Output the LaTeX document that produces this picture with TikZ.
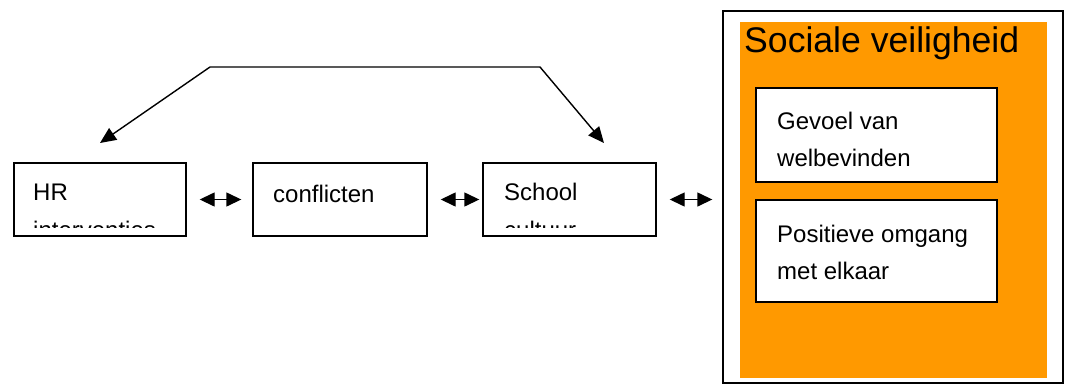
\documentclass[tikz,border=0pt]{standalone}
\usepackage{fontspec}
\setmainfont{Liberation Sans}
\usetikzlibrary{arrows.meta}
\definecolor{vorange}{HTML}{FF9900}
\begin{document}
\begin{tikzpicture}[x=1pt,y=-1pt,
  box/.style={draw=black, line width=1.4pt, fill=white, inner sep=0pt},
  lbl/.style={anchor=base west, inner sep=0pt, align=left, font=\fontsize{24}{37.5}\selectfont},
  dbl/.style={line width=1.4pt, {Triangle[length=15pt,width=14pt]}-{Triangle[length=15pt,width=14pt]}},
  topar/.style={line width=1.4pt, {Triangle[length=16pt,width=14pt]}-{Triangle[length=16pt,width=14pt]}}]
\useasboundingbox (0,0) rectangle (1067,386);
% left boxes
\node[box, minimum width=172pt, minimum height=73pt] (hr) at (100,199.5) {};
\node[box, minimum width=174pt, minimum height=73pt] (conf) at (340,199.5) {};
\node[box, minimum width=173pt, minimum height=73pt] (school) at (569.5,199.5) {};
\begin{scope}
  \clip (15,164) rectangle (185,227.5);
  \node[lbl] (hrt) at (33,238) {HR\\interventies};
\end{scope}
\node[lbl] (conft) at (273,202) {conflicten};
\begin{scope}
  \clip (484,164) rectangle (655,227.5);
  \node[lbl] (schoolt) at (504,238) {School\\cultuur};
\end{scope}
% right panel
\node[draw=black, line width=1.4pt, minimum width=340pt, minimum height=372pt, inner sep=0pt] (outer) at (893,197) {};
\node[fill=vorange, minimum width=307pt, minimum height=356pt, inner sep=0pt] (orange) at (893.5,200) {};
\node[anchor=base west, inner sep=0pt, font=\fontsize{35.6}{40}\selectfont] (title) at (744,52) {Sociale veiligheid};
\node[box, minimum width=241pt, minimum height=94pt] (in1) at (876.5,135) {};
\node[box, minimum width=241pt, minimum height=102pt] (in2) at (876.5,251) {};
\node[lbl] (in1t) at (777,166.5) {Gevoel van\\welbevinden};
\node[lbl] (in2t) at (777,279.5) {Positieve omgang\\met elkaar};
% double arrows
\draw[dbl] ([xshift=13pt]hr.east) -- ([xshift=-11pt]conf.west);
\draw[dbl] ([xshift=13pt]conf.east) -- ([xshift=-3pt]school.west);
\draw[dbl] ([xshift=13pt]school.east) -- ([xshift=-10pt]outer.west |- school.east);
% top connector
\coordinate (tl) at (100,143);
\coordinate (c1) at (210,67);
\coordinate (c2) at (540,67);
\coordinate (tr) at (604,143);
\draw[topar] (tl) -- (c1) -- (c2) -- (tr);
\end{tikzpicture}
\end{document}
